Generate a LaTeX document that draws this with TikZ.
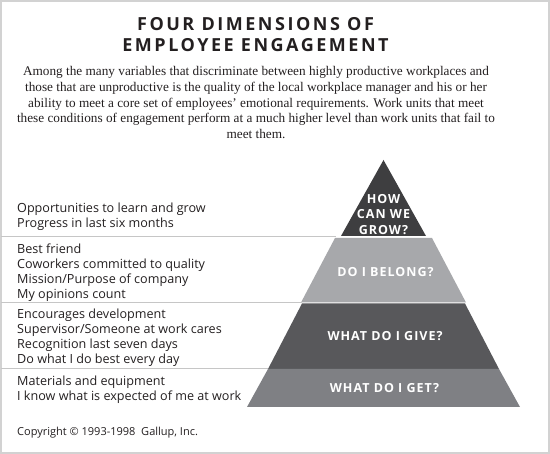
\documentclass[tikz,border=0pt]{standalone}
\usepackage{fontspec}
\setmainfont{Liberation Serif}
\setsansfont{Open Sans}
\newfontfamily\titlefont[LetterSpace=14]{Open Sans}
\newfontfamily\tierfont[LetterSpace=8]{Open Sans}

\definecolor{ink}{HTML}{231F20}
\definecolor{growfill}{HTML}{3E3E40}
\definecolor{belongfill}{HTML}{A7A8AB}
\definecolor{givefill}{HTML}{58585B}
\definecolor{getfill}{HTML}{7F8084}
\definecolor{rulegray}{HTML}{C6C6C6}
\definecolor{framegray}{HTML}{D2D2D2}

\begin{document}
\begin{tikzpicture}[x=1pt, y=-1pt,
   every node/.style={inner sep=0pt, text=ink},
   title/.style={font=\titlefont\bfseries\fontsize{18}{21}\selectfont, anchor=base},
   intro/.style={font=\fontsize{13.25}{15.7}\selectfont, align=center, anchor=north},
   item/.style={font=\sffamily\fontsize{12.6}{15}\selectfont, anchor=base west},
   note/.style={font=\sffamily\fontsize{11}{13}\selectfont, anchor=base west},
   tier/.style={font=\tierfont\bfseries\fontsize{12.5}{15.5}\selectfont, text=white, align=center},
   rule/.style={draw=rulegray, line width=1pt}]

\useasboundingbox (0,0) rectangle (550,454);
\draw[framegray, line width=2pt] (1,1) rectangle (549,453);

\node[title] (title1) at (255.5,31) {FOUR DIMENSIONS OF};
\node[title] (title2) at (255.5,52) {EMPLOYEE ENGAGEMENT};

\node[intro] (intro) at (256,66.5) {Among the many variables that discriminate between highly productive workplaces and\\
  those that are unproductive is the quality of the local workplace manager and his or her\\
  ability to meet a core set of employees' emotional requirements. Work units that meet\\
  these conditions of engagement perform at a much higher level than work units that fail to\\
  meet them.};

% pyramid
\coordinate (apex) at (383.5,160);
\fill[growfill] (apex) -- (426,236) -- (341,236) -- cycle;
\fill[belongfill] (335,238) -- (432,238) -- (466,302.5) -- (301,302.5) -- cycle;
\fill[givefill] (302,303.5) -- (465,303.5) -- (499,369) -- (268,369) -- cycle;
\fill[getfill] (268,369) -- (499,369) -- (520,407) -- (247,407) -- cycle;

\draw[rule] (1,237) -- (336,237);
\draw[rule] (1,303) -- (302,303);
\draw[rule] (1,369) -- (268,369);

\node[tier, anchor=north] (grow) at (383.5,194) {HOW\\CAN WE\\GROW?};
\node[tier, anchor=base] (belong) at (385.5,277) {DO I BELONG?};
\node[tier, anchor=base] (give) at (385,341) {WHAT DO I GIVE?};
\node[tier, anchor=base] (get) at (384.5,393) {WHAT DO I GET?};

\foreach \txt [count=\i] in {Opportunities to learn and grow, Progress in last six months}
  \node[item] (growitem\i) at (17,198+15*\i) {\txt};
\foreach \txt [count=\i] in {Best friend, Coworkers committed to quality, Mission/Purpose of company, My opinions count}
  \node[item] (belongitem\i) at (17,239+15*\i) {\txt};
\foreach \txt [count=\i] in {Encourages development, Supervisor/Someone at work cares, Recognition last seven days, Do what I do best every day}
  \node[item] (giveitem\i) at (17,304+15*\i) {\txt};
\foreach \txt [count=\i] in {Materials and equipment, I know what is expected of me at work}
  \node[item] (getitem\i) at (17,371+15*\i) {\txt};

\node[note] (copyright) at (17,436) {Copyright \textcopyright{} 1993-1998\ \ Gallup, Inc.};

\end{tikzpicture}
\end{document}
